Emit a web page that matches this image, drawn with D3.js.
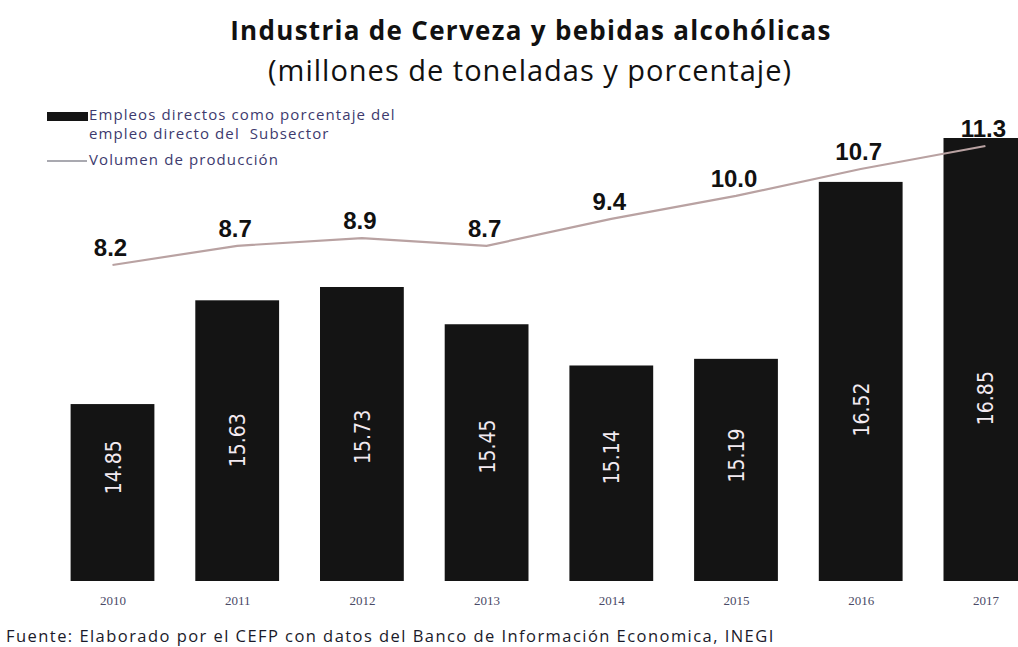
<!DOCTYPE html>
<html>
<head>
<meta charset="utf-8">
<script src="https://cdn.jsdelivr.net/npm/d3@7"></script>
<style>
  html, body { margin: 0; padding: 0; background: #ffffff; }
  svg { display: block; }
</style>
</head>
<body>
<svg id="chart" width="1018" height="647"></svg>
<script>
const years = ["2010", "2011", "2012", "2013", "2014", "2015", "2016", "2017"];
const empleoPct = [14.85, 15.63, 15.73, 15.45, 15.14, 15.19, 16.52, 16.85];
const volumen = [8.2, 8.7, 8.9, 8.7, 9.4, 10.0, 10.7, 11.3];
const volumenLabels = ["8.2", "8.7", "8.9", "8.7", "9.4", "10.0", "10.7", "11.3"];
const titleText = "Industria de Cerveza y bebidas alcohólicas";
const subtitleText = "(millones de toneladas y porcentaje)";
const legendBar = ["Empleos directos como porcentaje del", "empleo directo del  Subsector"];
const legendLine = "Volumen de producción";
const sourceText = "Fuente: Elaborado por el CEFP con datos del Banco de Información Economica, INEGI";

const svg = d3.select("#chart");

const x = d3.scalePoint().domain(years).range([112.5, 985.4]);
const step = x.step();
const barW = step * 0.672;
const y = d3.scaleLinear().domain([13.52, 16.85]).range([581, 138]);
const y2 = d3.scaleLinear().domain([8.2, 11.3]).range([265, 146]);

// Title
svg.append("text").attr("x", 531).attr("y", 40).attr("text-anchor", "middle")
  .style("font-family", "'Open Sans', sans-serif").style("font-weight", "bold")
  .style("font-size", "26px").style("letter-spacing", "1.3px")
  .attr("fill", "#111").text(titleText);
svg.append("text").attr("x", 530).attr("y", 81).attr("text-anchor", "middle")
  .style("font-family", "'Open Sans', sans-serif")
  .style("font-size", "29px").style("letter-spacing", "1px")
  .attr("fill", "#111").text(subtitleText);

// Bars
svg.append("g").selectAll("rect").data(empleoPct).join("rect")
  .attr("x", (d, i) => x(years[i]) - barW / 2)
  .attr("y", d => y(d))
  .attr("width", barW)
  .attr("height", d => y.range()[0] - y(d))
  .attr("fill", "#141414");

// Bar labels (rotated)
svg.append("g").selectAll("text").data(empleoPct).join("text")
  .attr("transform", (d, i) => {
    const mid = (y(d) + y.range()[0]) / 2;
    const ly = 0.52 * mid + 0.48 * 440;
    return `translate(${x(years[i]) + 8},${ly}) rotate(-90)`;
  })
  .attr("text-anchor", "middle")
  .style("font-family", "'Liberation Sans Narrow', 'DejaVu Sans Condensed', sans-serif")
  .style("font-size", "21px")
  .attr("fill", "#f3eaf0")
  .text(d => d.toFixed(2));

// Line
const line = d3.line().x((d, i) => x(years[i])).y(d => y2(d));
svg.append("path").datum(volumen).attr("d", line)
  .attr("fill", "none").attr("stroke", "#b9a2a2").attr("stroke-width", 2.2);

// Line labels
svg.append("g").selectAll("text").data(volumen).join("text")
  .attr("x", (d, i) => x(years[i]) - 2)
  .attr("y", d => y2(d) - 9)
  .attr("text-anchor", "middle")
  .style("font-family", "'Liberation Sans', Arial, sans-serif")
  .style("font-weight", "bold").style("font-size", "24px")
  .attr("fill", "#111")
  .text((d, i) => volumenLabels[i]);

// X axis labels
const xAxis = d3.axisBottom(x).tickSize(0).tickPadding(0);
const gx = svg.append("g").attr("transform", "translate(0,596)").call(xAxis);
gx.select(".domain").remove();
gx.selectAll("text")
  .style("font-family", "'Liberation Serif', 'DejaVu Serif', serif")
  .style("font-size", "13px").attr("fill", "#4a4a66");

// Legend
const lg = svg.append("g");
lg.append("rect").attr("x", 47).attr("y", 112).attr("width", 41).attr("height", 9).attr("fill", "#141414");
lg.selectAll("text.lb").data(legendBar).join("text").attr("class", "lb")
  .attr("x", 89).attr("y", (d, i) => 120 + i * 19)
  .style("font-family", "'Open Sans', sans-serif").style("font-size", "15px")
  .style("letter-spacing", "1.1px").style("white-space", "pre")
  .attr("fill", "#3d3a6e").text(d => d);
lg.append("line").attr("x1", 47).attr("x2", 87).attr("y1", 161).attr("y2", 161)
  .attr("stroke", "#8c8c96").attr("stroke-width", 1.5);
lg.append("text").attr("x", 89).attr("y", 165)
  .style("font-family", "'Open Sans', sans-serif").style("font-size", "15px")
  .style("letter-spacing", "1.1px")
  .attr("fill", "#3d3a6e").text(legendLine);

// Source
svg.append("text").attr("x", 6).attr("y", 642)
  .style("font-family", "'Open Sans', sans-serif").style("font-size", "16.5px")
  .style("letter-spacing", "1.45px")
  .attr("fill", "#1a1a2a").text(sourceText);
</script>
</body>
</html>
